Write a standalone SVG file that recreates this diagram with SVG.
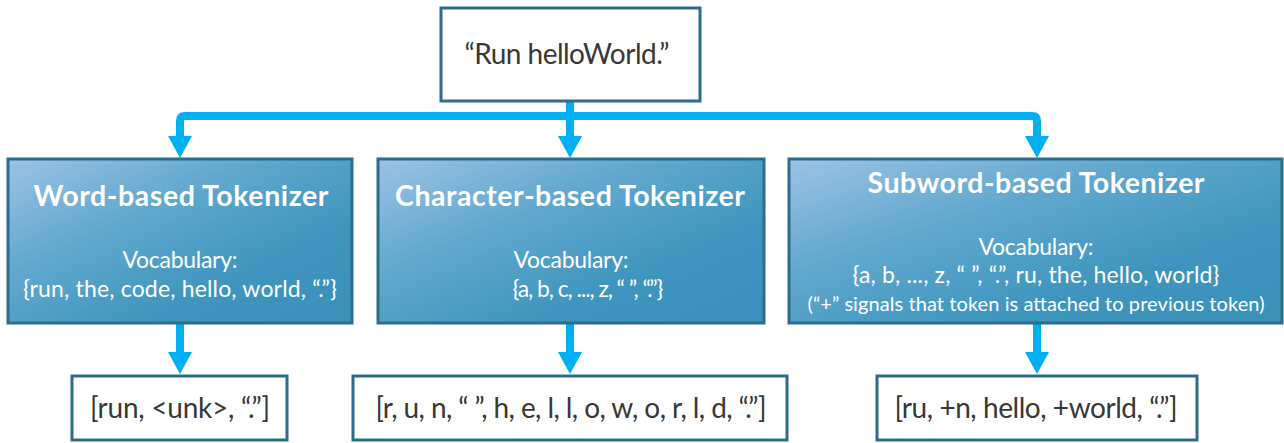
<svg xmlns="http://www.w3.org/2000/svg" width="1284" height="443" viewBox="0 0 1284 443">
  <defs>
    <linearGradient id="boxGrad" x1="0" y1="0" x2="1" y2="1">
      <stop offset="0" stop-color="#9CC2E5"/>
      <stop offset="0.35" stop-color="#62A8CE"/>
      <stop offset="0.7" stop-color="#3E95BE"/>
      <stop offset="1" stop-color="#3B90BA"/>
    </linearGradient>
    <marker id="head" viewBox="0 0 22 24" refX="0" refY="12" markerWidth="22" markerHeight="24" orient="auto-start-reverse" markerUnits="userSpaceOnUse">
      <path d="M0,0 L22,12 L0,24 Z" fill="#00B0F0"/>
    </marker>
  </defs>
  <style>
    .white { fill: #FFFFFF; stroke: #2D6C8A; stroke-width: 3; }
    .blue { fill: url(#boxGrad); stroke: #2D6C8A; stroke-width: 3; }
    .conn { fill: none; stroke: #00B0F0; stroke-width: 8; stroke-linejoin: round; marker-end: url(#head); }
    .title { font-family: Lato, "Open Sans", "Liberation Sans", sans-serif; font-weight: bold; font-size: 28.5px; fill: #FFFFFF; text-anchor: middle; }
    .body { font-family: Lato, "Open Sans", "Liberation Sans", sans-serif; font-size: 23px; fill: #FFFFFF; text-anchor: middle; }
    .note { font-family: Lato, "Open Sans", "Liberation Sans", sans-serif; font-size: 20px; fill: #FFFFFF; text-anchor: middle; }
    .dark { font-family: Lato, "Open Sans", "Liberation Sans", sans-serif; font-size: 28px; fill: #383838; text-anchor: middle; }
  </style>

  <g id="connectors">
    <path class="conn" d="M570,101 V136"/>
    <path class="conn" d="M180,136 V121 Q180,116 185,116 H1032 Q1037,116 1037,121 V136" style="marker-start:url(#head)"/>
    <path class="conn" d="M180,324 V352"/>
    <path class="conn" d="M570,324 V352"/>
    <path class="conn" d="M1037,324 V352"/>
  </g>

  <g id="input">
    <rect class="white" x="441" y="8" width="259" height="93"/>
    <text class="dark" x="567" y="64" textLength="205">“Run helloWorld.”</text>
  </g>

  <g id="word-tokenizer">
    <rect class="blue" x="8" y="159" width="344" height="164"/>
    <text class="title" x="181" y="206" textLength="295">Word-based Tokenizer</text>
    <text class="body" x="180" y="268" textLength="115">Vocabulary:</text>
    <text class="body" x="180" y="297" textLength="314">{run, the, code, hello, world, “.”}</text>
  </g>

  <g id="char-tokenizer">
    <rect class="blue" x="378" y="159" width="386" height="164"/>
    <text class="title" x="570" y="206" textLength="350">Character-based Tokenizer</text>
    <text class="body" x="571" y="268" textLength="115">Vocabulary:</text>
    <text class="body" x="588" y="297" textLength="151">{a, b, c, ..., z, “ ”, “.”}</text>
  </g>

  <g id="subword-tokenizer">
    <rect class="blue" x="789" y="159" width="493" height="164"/>
    <text class="title" x="1036" y="193" textLength="337">Subword-based Tokenizer</text>
    <text class="body" x="1036" y="255" textLength="115">Vocabulary:</text>
    <text class="body" x="1036" y="283" textLength="367">{a, b, ..., z, “ ”, “.”, ru, the, hello, world}</text>
    <text class="note" x="1036" y="311" textLength="457">(“+” signals that token is attached to previous token)</text>
  </g>

  <g id="word-output">
    <rect class="white" x="72" y="376" width="215" height="64"/>
    <text class="dark" x="180" y="418" textLength="180">[run, &lt;unk&gt;, “.”]</text>
  </g>

  <g id="char-output">
    <rect class="white" x="353" y="376" width="434" height="64"/>
    <text class="dark" x="571" y="418" textLength="391">[r, u, n, “ ”, h, e, l, l, o, w, o, r, l, d, “.”]</text>
  </g>

  <g id="subword-output">
    <rect class="white" x="877" y="376" width="320" height="64"/>
    <text class="dark" x="1036" y="418" textLength="283">[ru, +n, hello, +world, “.”]</text>
  </g>
</svg>
